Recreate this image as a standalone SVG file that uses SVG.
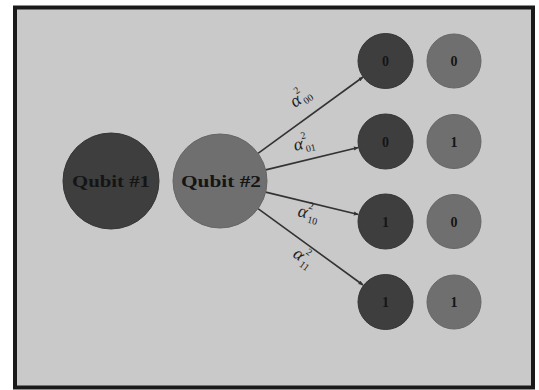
<svg xmlns="http://www.w3.org/2000/svg" width="539" height="390" viewBox="0 0 539 390">
<defs>
<style>
.frame{fill:#c9c9c9;stroke:#1a1a1a;stroke-width:4}
.dark{fill:#3e3e3e;stroke:#353535;stroke-width:1}
.mid{fill:#6f6f6f;stroke:#666;stroke-width:1}
.lbl{font-family:"Liberation Serif","DejaVu Serif",serif;font-weight:bold;fill:#151515;text-anchor:middle}
.big{font-size:16px}
.dig{font-size:14px}
.edge{stroke:#333;stroke-width:1.6;fill:none;marker-end:url(#ah)}
.al{font-family:"Liberation Serif","DejaVu Serif",serif;fill:#222}
.a{font-size:18px;font-style:italic}
.s{font-size:10px}
</style>
<marker id="ah" viewBox="0 0 10 10" refX="9" refY="5" markerWidth="5" markerHeight="5" orient="auto" markerUnits="userSpaceOnUse">
<path d="M0,1 L10,5 L0,9 z" fill="#333"/>
</marker>
</defs>
<rect class="frame" x="15" y="7.5" width="518" height="380"/>
<g id="edges">
<line class="edge" x1="258" y1="153.4" x2="363" y2="77"/>
<line class="edge" x1="265.7" y1="169.9" x2="358.3" y2="147.5"/>
<line class="edge" x1="265.7" y1="192.1" x2="358.3" y2="214.5"/>
<line class="edge" x1="258" y1="208.6" x2="363" y2="285"/>
</g>
<g id="lbl00" class="al" transform="translate(295,108) rotate(-36)">
<text x="0" y="0" class="a">α</text><text x="9" y="-10" class="s">2</text><text x="11" y="4" class="s">00</text>
</g>
<g id="lbl01" class="al" transform="translate(295,151) rotate(-13.6)">
<text x="0" y="0" class="a">α</text><text x="9" y="-10" class="s">2</text><text x="11" y="4" class="s">01</text>
</g>
<g id="lbl10" class="al" transform="translate(297,216) rotate(13.6)">
<text x="0" y="0" class="a">α</text><text x="9" y="-10" class="s">2</text><text x="11" y="4" class="s">10</text>
</g>
<g id="lbl11" class="al" transform="translate(292,256) rotate(36)">
<text x="0" y="0" class="a">α</text><text x="9" y="-10" class="s">2</text><text x="11" y="4" class="s">11</text>
</g>
<g id="q1"><circle class="dark" cx="111" cy="181" r="48"/><text class="lbl big" x="111" y="187" textLength="78" lengthAdjust="spacingAndGlyphs">Qubit #1</text></g>
<g id="q2"><circle class="mid" cx="220" cy="181" r="47"/><text class="lbl big" x="221" y="187" textLength="80" lengthAdjust="spacingAndGlyphs">Qubit #2</text></g>
<g id="n00a"><circle class="dark" cx="385.5" cy="61" r="27.5"/><text class="lbl dig" x="385.5" y="66">0</text></g>
<g id="n00b"><circle class="mid" cx="454" cy="61" r="27"/><text class="lbl dig" x="454" y="66">0</text></g>
<g id="n01a"><circle class="dark" cx="385.5" cy="141.5" r="27.5"/><text class="lbl dig" x="385.5" y="146.5">0</text></g>
<g id="n01b"><circle class="mid" cx="454" cy="141.5" r="27"/><text class="lbl dig" x="454" y="146.5">1</text></g>
<g id="n10a"><circle class="dark" cx="385.5" cy="221.5" r="27.5"/><text class="lbl dig" x="385.5" y="226.5">1</text></g>
<g id="n10b"><circle class="mid" cx="454" cy="221.5" r="27"/><text class="lbl dig" x="454" y="226.5">0</text></g>
<g id="n11a"><circle class="dark" cx="385.5" cy="302" r="27.5"/><text class="lbl dig" x="385.5" y="307">1</text></g>
<g id="n11b"><circle class="mid" cx="454" cy="302" r="27"/><text class="lbl dig" x="454" y="307">1</text></g>
</svg>
